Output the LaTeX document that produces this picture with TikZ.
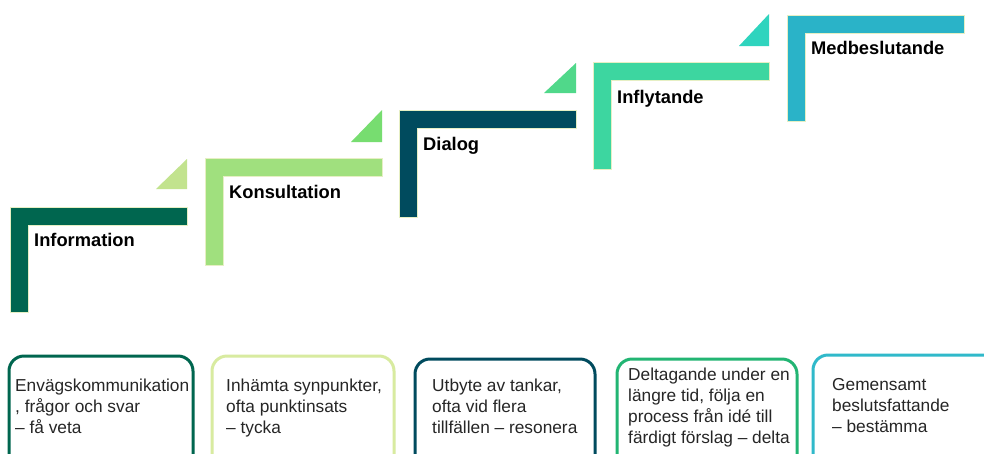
\documentclass[tikz,border=0pt]{standalone}
\usepackage{fontspec}
\setmainfont{Liberation Sans}
\definecolor{cInfo}{HTML}{00664F}
\definecolor{cInfoT}{HTML}{C2E38E}
\definecolor{cKons}{HTML}{A0E07E}
\definecolor{cKonsT}{HTML}{77DD70}
\definecolor{cKonsB}{HTML}{D8EBA0}
\definecolor{cDial}{HTML}{004B5E}
\definecolor{cDialT}{HTML}{50D88A}
\definecolor{cInfl}{HTML}{3DD6A0}
\definecolor{cInflT}{HTML}{2FD4BE}
\definecolor{cInflB}{HTML}{22B573}
\definecolor{cMed}{HTML}{2AB3C8}
\definecolor{cMedB}{HTML}{30B9CA}
\definecolor{edgeline}{HTML}{E6EFC4}
\tikzset{
  steplabel/.style={anchor=base west, inner sep=0pt, font=\fontsize{18.3}{22}\selectfont\bfseries, text=black},
  desc/.style={anchor=north west, inner sep=0pt, align=left, font=\fontsize{17.3}{20.9}\selectfont, text=black!85},
  infobox/.style={line width=3pt, rounded corners=15pt, fill=white},
  lshape/.style={draw=edgeline, line width=0.4pt},
}
\begin{document}
\begin{tikzpicture}[x=1pt, y=-1pt]
\clip (0,0) rectangle (984,453);
\fill[white] (0,0) rectangle (984,453);
% step 1
\fill[cInfoT] (156,189) -- (187,189) -- (187,159) -- cycle;
\filldraw[lshape, fill=cInfo] (10,207) -- (187,207) -- (187,225) -- (28,225) -- (28,312) -- (10,312) -- cycle;
\node[steplabel] (l1) at (34,246) {Information};
% step 2
\fill[cKonsT] (351,142) -- (382,142) -- (382,110) -- cycle;
\filldraw[lshape, fill=cKons] (205,158) -- (382,158) -- (382,176) -- (223,176) -- (223,265) -- (205,265) -- cycle;
\node[steplabel] (l2) at (229,198) {Konsultation};
% step 3
\fill[cDialT] (544,93) -- (576,93) -- (576,63) -- cycle;
\filldraw[lshape, fill=cDial] (399,110) -- (576,110) -- (576,128) -- (417,128) -- (417,217) -- (399,217) -- cycle;
\node[steplabel] (l3) at (423,150) {Dialog};
% step 4
\fill[cInflT] (739,46) -- (769,46) -- (769,14) -- cycle;
\filldraw[lshape, fill=cInfl] (593,62) -- (769,62) -- (769,80) -- (611,80) -- (611,169) -- (593,169) -- cycle;
\node[steplabel] (l4) at (617,103) {Inflytande};
% step 5
\filldraw[lshape, fill=cMed] (787,15) -- (964,15) -- (964,33) -- (805,33) -- (805,121) -- (787,121) -- cycle;
\node[steplabel] (l5) at (811,54) {Medbeslutande};
% boxes
\draw[infobox, draw=cInfo] (9,356) rectangle (193,480);
\draw[infobox, draw=cKonsB] (212,356) rectangle (394,480);
\draw[infobox, draw=cDial] (415,359) rectangle (595,480);
\draw[infobox, draw=cInflB] (617,359) rectangle (797,480);
\draw[infobox, draw=cMedB] (813,355) rectangle (1000,480);
\node[desc] (d1) at (15,378.5) {Envägskommunikation\\, frågor och svar\\– få veta};
\node[desc] (d2) at (226,378.5) {Inhämta synpunkter,\\ofta punktinsats\\– tycka};
\node[desc] (d3) at (432,378.5) {Utbyte av tankar,\\ofta vid flera\\tillfällen – resonera};
\node[desc] (d4) at (628,368) {Deltagande under en\\längre tid, följa en\\process från idé till\\färdigt förslag – delta};
\node[desc] (d5) at (832,378) {Gemensamt\\beslutsfattande\\– bestämma};
\end{tikzpicture}
\end{document}
